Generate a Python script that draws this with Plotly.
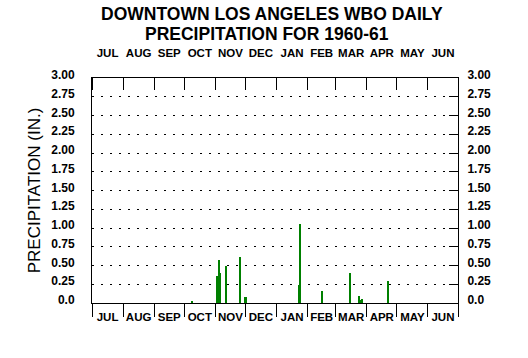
import plotly.graph_objects as go

# ---- data ----
months = ["JUL", "AUG", "SEP", "OCT", "NOV", "DEC", "JAN", "FEB", "MAR", "APR", "MAY", "JUN"]
month_days = [31, 31, 30, 31, 30, 31, 31, 28, 31, 30, 31, 30]   # Jul 1960 .. Jun 1961
rain_day = [100, 125, 127, 128, 134, 148, 153, 154, 207, 208, 229, 257, 266, 268, 269, 295]  # days since Jul 1, 1960
rain_in = [0.02, 0.36, 0.57, 0.40, 0.50, 0.62, 0.08, 0.08, 0.24, 1.06, 0.16, 0.40, 0.09, 0.04, 0.06, 0.29]
y_ticks = [0, 0.25, 0.5, 0.75, 1.0, 1.25, 1.5, 1.75, 2.0, 2.25, 2.5, 2.75, 3.0]
y_labels = ["0.0", "0.25", "0.50", "0.75", "1.00", "1.25", "1.50", "1.75",
            "2.00", "2.25", "2.50", "2.75", "3.00"]
title_lines = ["DOWNTOWN LOS ANGELES WBO DAILY", "PRECIPITATION FOR 1960-61"]
y_title = "PRECIPITATION (IN.)"

bounds = [0]
for d in month_days:
    bounds.append(bounds[-1] + d)
mids = [(bounds[i] + bounds[i + 1]) / 2 for i in range(len(months))]

FONT = "Liberation Sans, Arial, sans-serif"
BLACK = "#000000"
CLEAR = "rgba(0,0,0,0)"

fig = go.Figure()
fig.add_trace(go.Bar(x=rain_day, y=rain_in, width=1.2,
                     marker=dict(color="#008000", line=dict(width=0)),
                     showlegend=False, hoverinfo="skip"))
# same data on the overlaid (top/right) axes, invisible, so those axes are drawn
fig.add_trace(go.Bar(x=rain_day, y=rain_in, width=1.2, xaxis="x2", yaxis="y2",
                     marker=dict(color=CLEAR, line=dict(width=0)),
                     showlegend=False, hoverinfo="skip"))

tickfont_x = dict(family=FONT, size=11.5, color=BLACK, weight="bold")
tickfont_y = dict(family=FONT, size=12, color=BLACK, weight="bold")

fig.update_layout(
    width=528, height=358,
    margin=dict(l=92, r=70, t=78, b=55, pad=0),
    paper_bgcolor="white", plot_bgcolor="white",
    bargap=0,
    showlegend=False,
    xaxis=dict(range=[0, 365], showline=True, linecolor=BLACK, linewidth=1,
               zeroline=False, showgrid=False, automargin=False,
               tickmode="array", tickvals=mids, ticktext=months,
               ticks="outside", ticklen=3, tickcolor=CLEAR, tickfont=tickfont_x,
               minor=dict(tickmode="array", tickvals=bounds, ticks="outside", ticklen=13,
                          tickcolor=BLACK, tickwidth=1, showgrid=False)),
    xaxis2=dict(range=[0, 365], overlaying="x", side="top", anchor="y2",
                showline=True, linecolor=BLACK, linewidth=1,
                zeroline=False, showgrid=False, automargin=False,
                tickmode="array", tickvals=mids, ticktext=months,
                ticks="outside", ticklen=15, tickcolor=CLEAR, tickfont=tickfont_x,
                minor=dict(tickmode="array", tickvals=bounds, ticks="inside", ticklen=12,
                           tickcolor=BLACK, tickwidth=1, showgrid=False)),
    yaxis=dict(range=[0, 3], showline=True, linecolor=BLACK, linewidth=1,
               zeroline=False, showgrid=True, gridcolor=BLACK, gridwidth=1,
               griddash="2px,7px", automargin=False,
               tickmode="array", tickvals=y_ticks, ticktext=y_labels,
               ticks="outside", ticklen=14, tickcolor=CLEAR, tickfont=tickfont_y,
               ticklabelshift=-3,
               title=dict(text=y_title, font=dict(family=FONT, size=17, color=BLACK),
                          standoff=6)),
    yaxis2=dict(range=[0, 3], overlaying="y", side="right", anchor="x2",
                showline=True, linecolor=BLACK, linewidth=1,
                zeroline=False, showgrid=False, automargin=False,
                tickmode="array", tickvals=y_ticks, ticktext=y_labels,
                ticks="inside", ticklen=9, tickcolor=BLACK, tickwidth=1,
                ticklabelstandoff=6, ticklabelshift=-3, tickfont=tickfont_y),
)

plot_w = 528 - 92 - 70
plot_h = 358 - 78 - 55
title_pos = [(272, 14.0), (267, 34.0)]  # pixel centres of the two title lines
for text, (px, py) in zip(title_lines, title_pos):
    fig.add_annotation(text=text, xref="paper", yref="paper",
                       x=(px - 92) / plot_w, y=1 + (78 - py) / plot_h,
                       xanchor="center", yanchor="middle", showarrow=False, borderpad=0,
                       font=dict(family=FONT, size=17.5, color=BLACK, weight="bold"))

fig.write_html("out.html", config={"displayModeBar": False},
               post_script="document.body.style.margin='0';")
